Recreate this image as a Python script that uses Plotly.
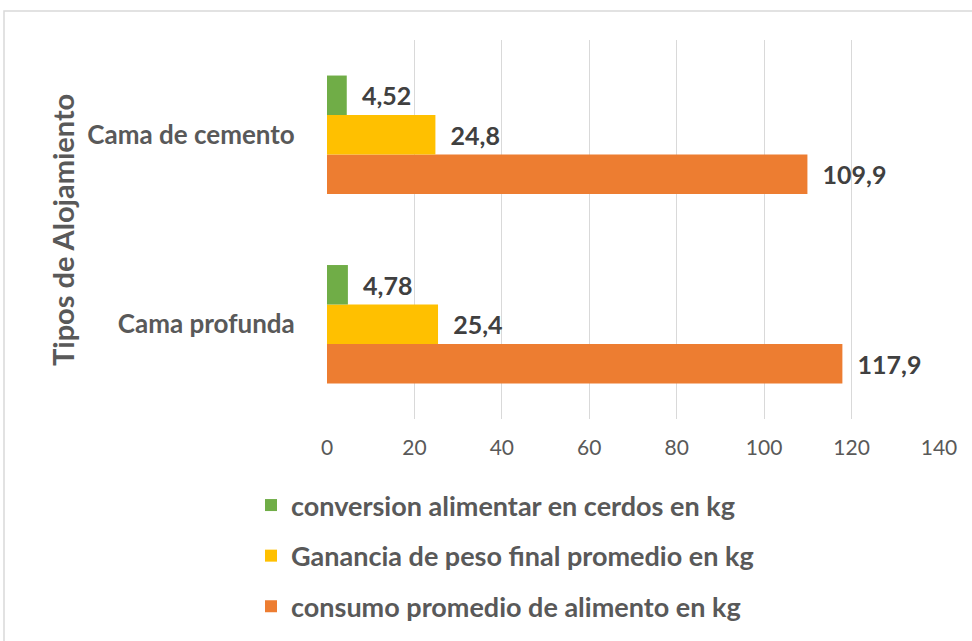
import plotly.graph_objects as go

categories = ["Cama profunda", "Cama de cemento"]
series_names = [
    "consumo promedio de alimento en kg",
    "Ganancia de peso final promedio en kg",
    "conversion alimentar en cerdos en kg",
]
consumo = [117.9, 109.9]
ganancia = [25.4, 24.8]
conversion = [4.78, 4.52]
colors = ["#ED7D31", "#FFC000", "#70AD47"]
legend_ranks = [3, 2, 1]
x_ticks = [0, 20, 40, 60, 80, 100, 120, 140]

W, H = 972, 641
L, R, T, B = 327, 33, 40, 222
pw, ph = W - L - R, H - T - B

def px_x(p):
    return (p - L) / pw

def px_y(p):
    return (H - B - p) / ph

fig = go.Figure()
for name, vals, col, rk in zip(series_names, [consumo, ganancia, conversion], colors, legend_ranks):
    fig.add_trace(go.Bar(
        y=categories, x=vals, name=name, orientation="h",
        marker=dict(color=col, line=dict(width=0)),
        text=[str(v).replace(".", ",") for v in vals],
        texttemplate="  %{text}",
        textposition="outside", constraintext="none", cliponaxis=False,
        textfont=dict(family="Lato", size=25, color="#404040", weight="bold"),
        legendgroup=name, legendrank=rk,
    ))

fig.update_layout(
    width=W, height=H,
    margin=dict(l=L, r=R, t=T, b=B, autoexpand=False),
    paper_bgcolor="white", plot_bgcolor="white",
    barmode="group", bargap=0.375, bargroupgap=0,
    font=dict(family="Lato", color="#595959"),
    xaxis=dict(range=[0, 140], tickvals=x_ticks, showgrid=True, gridcolor="#d9d9d9",
               gridwidth=1, zeroline=False, showline=False,
               ticks="outside", ticklen=10, tickcolor="rgba(0,0,0,0)",
               tickfont=dict(size=21, color="#595959")),
    yaxis=dict(showgrid=False, zeroline=False, showline=False,
               ticks="outside", ticklen=26, tickcolor="rgba(0,0,0,0)",
               tickfont=dict(size=26, color="#595959", weight="bold")),
    legend=dict(x=px_x(251), y=px_y(481), xanchor="left", yanchor="top",
                traceorder="grouped", tracegroupgap=12.5,
                font=dict(size=27, color="#595959", weight="bold"),
                bgcolor="rgba(0,0,0,0)"),
    showlegend=True,
    annotations=[dict(text="<b>Tipos de Alojamiento</b>", textangle=-90, xref="paper", yref="paper",
                      x=px_x(62), y=px_y(230), xanchor="center", yanchor="middle", showarrow=False,
                      font=dict(size=29, color="#595959"))],
    shapes=[dict(type="rect", xref="paper", yref="paper",
                 x0=px_x(4), x1=px_x(980), y0=px_y(11), y1=px_y(660),
                 line=dict(color="#d9d9d9", width=1.5), fillcolor="rgba(0,0,0,0)",
                 layer="below")],
)

fig.write_html("out.html", config={"displayModeBar": False},
               post_script="document.body.style.margin='0px';")
